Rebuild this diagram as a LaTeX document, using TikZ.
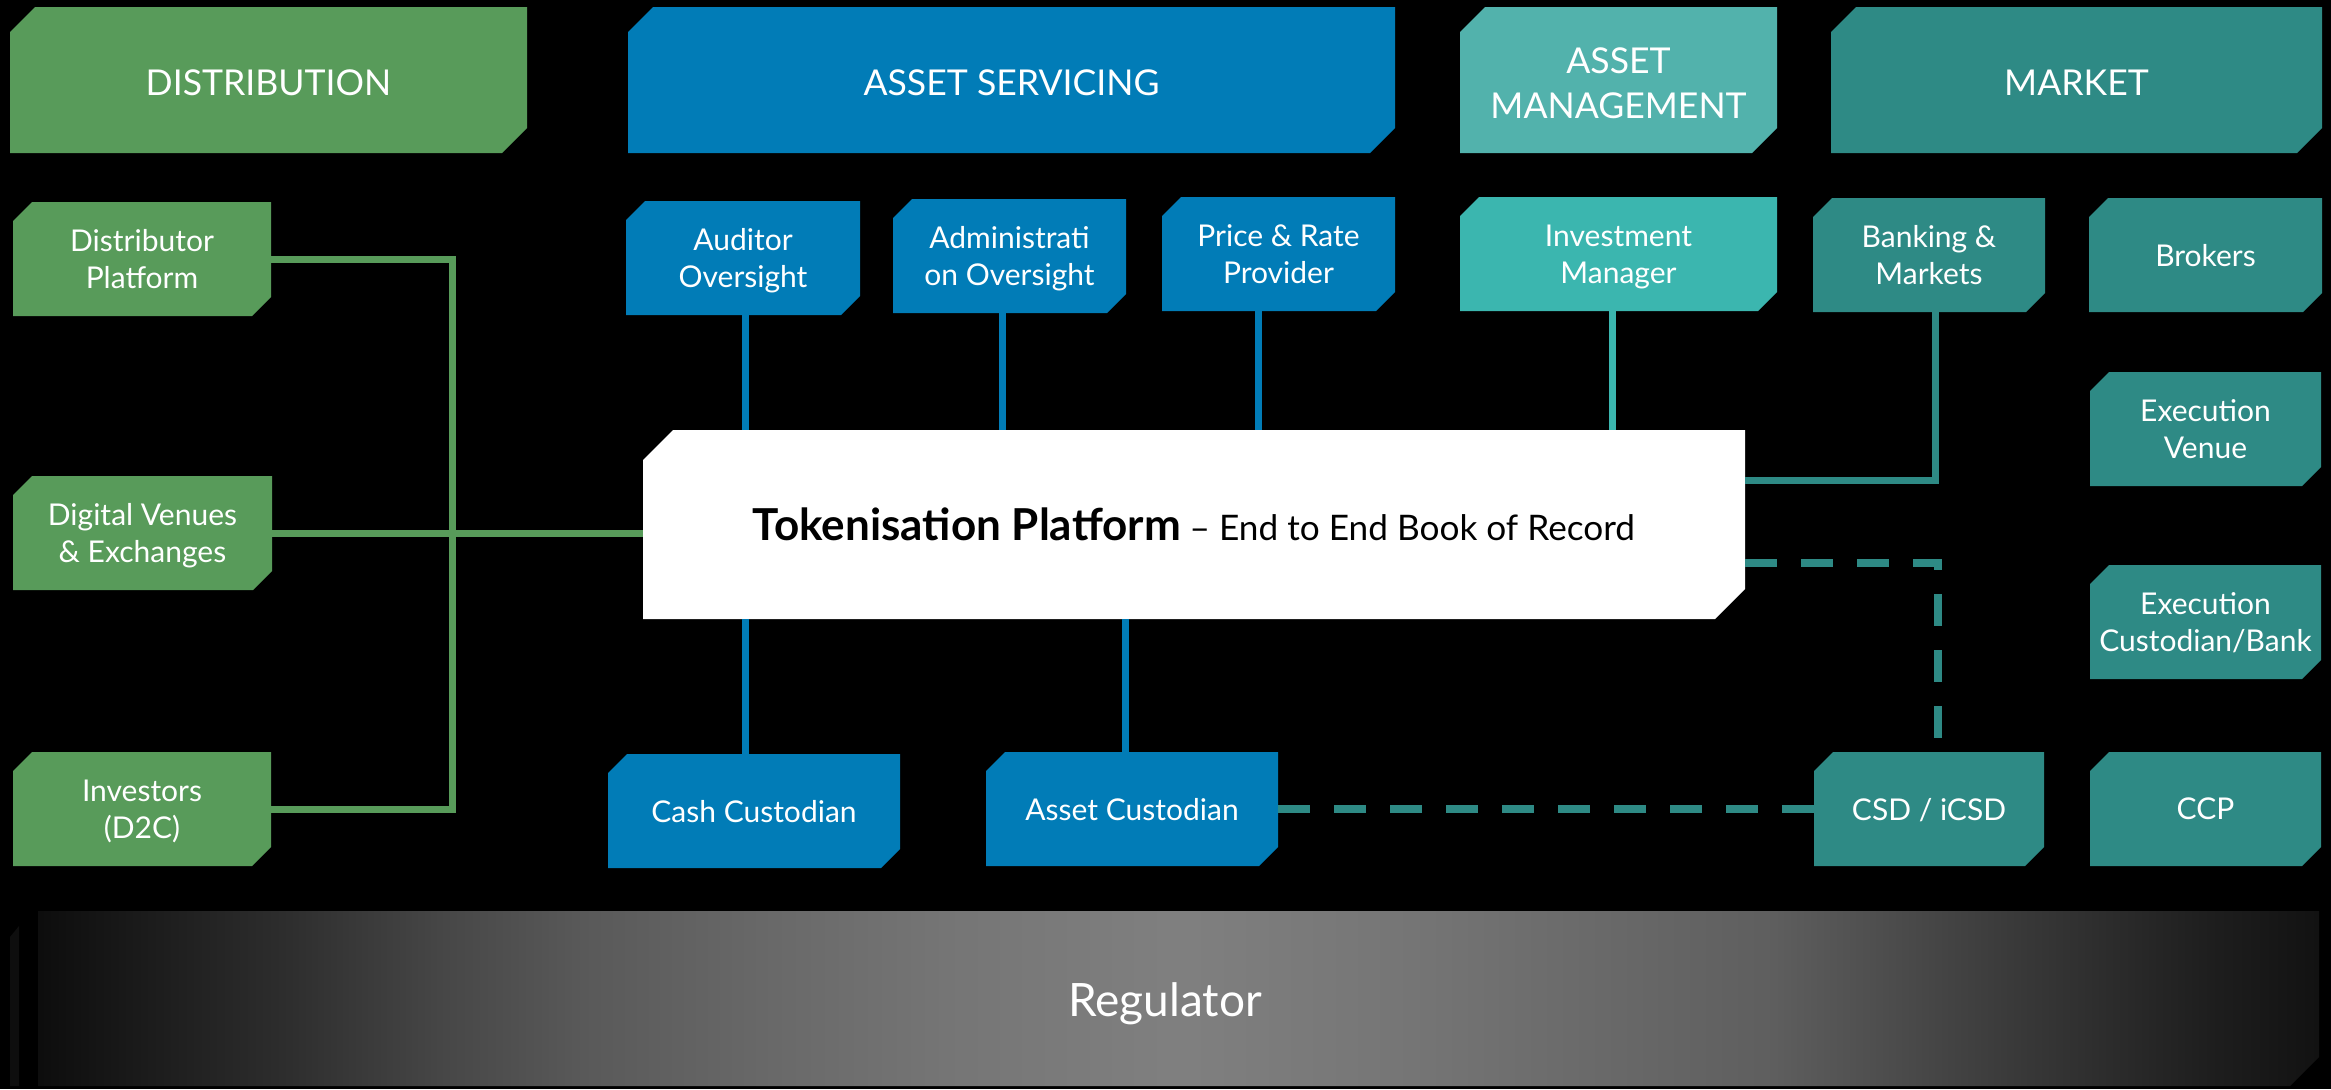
\documentclass[tikz,border=0pt]{standalone}
\usepackage{fontspec}
\setmainfont{Lato}
\usetikzlibrary{calc}
\definecolor{grn}{RGB}{88,155,90}
\definecolor{blu}{RGB}{1,124,183}
\definecolor{amh}{RGB}{82,178,172}
\definecolor{amb}{RGB}{59,182,175}
\definecolor{mkt}{RGB}{46,138,133}
\definecolor{sliver}{RGB}{14,14,14}
\pgfdeclarehorizontalshading{regshade}{100bp}{%
  rgb(0bp)=(0.05,0.05,0.05); rgb(25bp)=(0.05,0.05,0.05);
  rgb(27.5bp)=(0.11,0.11,0.11); rgb(30.5bp)=(0.18,0.18,0.18);
  rgb(34bp)=(0.28,0.28,0.28); rgb(37bp)=(0.35,0.35,0.35);
  rgb(41bp)=(0.41,0.41,0.41); rgb(45bp)=(0.46,0.46,0.46);
  rgb(50bp)=(0.50,0.50,0.50); rgb(55bp)=(0.46,0.46,0.46);
  rgb(63bp)=(0.37,0.37,0.37); rgb(68.5bp)=(0.22,0.22,0.22);
  rgb(72.5bp)=(0.12,0.12,0.12); rgb(75bp)=(0.07,0.07,0.07);
  rgb(100bp)=(0.07,0.07,0.07)}
\tikzset{
  lbl/.style={inner sep=0pt, text=white, align=center, text depth=0pt, font={\fontsize{15}{18.5}\selectfont}},
  hdr/.style={lbl, yshift=-1.5pt, font={\fontsize{17.8}{22.5}\selectfont}},
  toklbl/.style={inner sep=0pt, text=black, align=center, font={\fontsize{17.6}{20}\selectfont}},
  reglbl/.style={inner sep=0pt, text=white, text depth=0pt, font={\fontsize{23}{28}\selectfont}},
  conn/.style={line width=3.5pt},
  gline/.style={conn, draw=grn},
  bline/.style={conn, draw=blu},
  tline/.style={conn, draw=amb},
  mline/.style={conn, draw=mkt},
  dline/.style={line width=4pt, draw=mkt, dash pattern=on 16pt off 12pt},
}
% name, label style, fill, x1, y1, x2, y2, cut, text
\newcommand\snipnode[9]{%
  \fill[#3] (#4,#5+#8) -- (#4+#8,#5) -- (#6,#5) -- (#6,#7-#8) -- (#6-#8,#7) -- (#4,#7) -- cycle;
  \node[#2, minimum width={(#6-#4)*0.5pt}, minimum height={(#7-#5)*0.5pt}] (#1) at ({(#4+#6)/2},{(#5+#7)/2}) {#9};
}
\begin{document}
\begin{tikzpicture}[x=0.5pt,y=-0.5pt]
\fill[black] (0,0) rectangle (2331,1089);
\useasboundingbox (0,0) rectangle (2331,1089);

% headers
\snipnode{dist}{hdr}{grn}{10}{7}{527}{153}{25}{DISTRIBUTION}
\snipnode{asv}{hdr}{blu}{628}{7}{1395}{153}{25}{ASSET SERVICING}
\snipnode{amg}{hdr}{amh}{1460}{7}{1777}{153}{25}{ASSET\\MANAGEMENT}
\snipnode{mkh}{hdr}{mkt}{1831}{7}{2322}{153}{25}{MARKET}

% second row
\snipnode{dp}{lbl}{grn}{13}{202}{271}{316}{19}{Distributor\\Platform}
\snipnode{aud}{lbl}{blu}{626}{201}{860}{315}{19}{Auditor\\Oversight}
\snipnode{adm}{lbl}{blu}{893}{199}{1126}{313}{19}{Administrati\\on Oversight}
\snipnode{prc}{lbl}{blu}{1162}{197}{1395}{311}{19}{Price \& Rate\\Provider}
\snipnode{im}{lbl}{amb}{1460}{197}{1777}{311}{19}{Investment\\Manager}
\snipnode{bnk}{lbl}{mkt}{1813}{198}{2045}{312}{19}{Banking \&\\Markets}
\snipnode{brk}{lbl}{mkt}{2089}{198}{2322}{312}{19}{Brokers}

% middle
\snipnode{dv}{lbl}{grn}{13}{476}{272}{590}{19}{Digital Venues\\\& Exchanges}
\snipnode{tok}{toklbl}{white}{643}{430}{1745}{619}{30}{{\fontsize{22}{24}\selectfont\bfseries Tokenisation Platform} – End to End Book of Record}
\snipnode{exv}{lbl}{mkt}{2090}{372}{2321}{486}{19}{Execution\\Venue}
\snipnode{exc}{lbl}{mkt}{2090}{565}{2321}{679}{19}{Execution\\Custodian/Bank}

% bottom row
\snipnode{ivs}{lbl}{grn}{13}{752}{271}{866}{19}{Investors\\(D2C)}
\snipnode{cash}{lbl}{blu}{608}{754}{900}{868}{19}{Cash Custodian}
\snipnode{acu}{lbl}{blu}{986}{752}{1278}{866}{19}{Asset Custodian}
\snipnode{csd}{lbl}{mkt}{1814}{752}{2044}{866}{19}{CSD / iCSD}
\snipnode{ccp}{lbl}{mkt}{2090}{752}{2321}{866}{19}{CCP}

% regulator
\fill[sliver] (10,937) -- (19,926) -- (19,1086) -- (10,1086) -- cycle;
\shade[shading=regshade]
  (38,911) -- (2319,911) -- (2319,1057) -- (2290,1086) -- (38,1086) -- cycle;
\node[reglbl] (reg) at (1165,1000) {Regulator};

% distribution connectors
\coordinate (gj) at (452,533);
\draw[gline] (dp.east) -| (gj) |- (ivs.east);
\draw[gline] (dv.east) -- (dv.east -| tok.west);

% asset servicing connectors
\draw[bline] (aud.south) ++(2,0) coordinate (a1) -- (a1 |- tok.north);
\draw[bline] (adm.south) ++(-7.5,0) coordinate (a2) -- (a2 |- tok.north);
\draw[bline] (prc.south) ++(-20.5,0) coordinate (a3) -- (a3 |- tok.north);
\draw[bline] (cash.north) ++(-9,0) coordinate (a4) -- (a4 |- tok.south);
\draw[bline] (acu.north) ++(-7,0) coordinate (a5) -- (a5 |- tok.south);

% asset management connector
\draw[tline] (im.south) ++(-6.5,0) coordinate (a6) -- (a6 |- tok.north);

% market connectors
\draw[mline] ([yshift=22.25pt]tok.east) -| ([xshift=3pt]bnk.south);
\draw[dline] ([yshift=-19.25pt]tok.east) -| ([xshift=4.5pt]csd.north);
\draw[dline] (acu.east) -- (acu.east -| csd.west);
\end{tikzpicture}
\end{document}
